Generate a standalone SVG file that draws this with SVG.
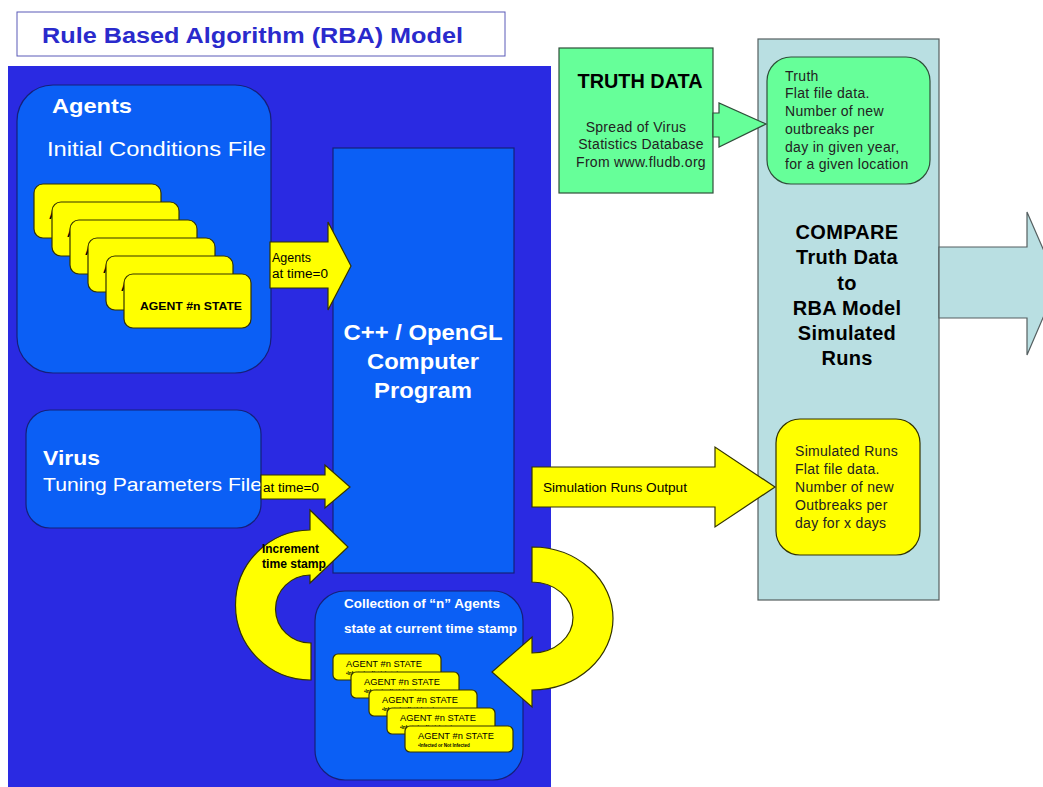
<svg xmlns="http://www.w3.org/2000/svg" width="1043" height="787" viewBox="0 0 1043 787">
  <defs>
    <style>
      .bg { fill: #2a2ae2; }
      .blue { fill: #0b5ff5; stroke: #15207a; stroke-width: 1.2; }
      .yellow { fill: #ffff00; stroke: #333300; stroke-width: 1.2; }
      .green { fill: #66ff99; stroke: #2f4f3a; stroke-width: 1.2; }
      .pale { fill: #b9dfe2; stroke: #555f60; stroke-width: 1.2; }
      text { font-family: "Liberation Sans", Arial, sans-serif; }
      .wb { fill: #ffffff; font-weight: bold; }
      .w { fill: #ffffff; }
      .k { fill: #000000; }
      .kb { fill: #000000; font-weight: bold; }
      .dk { fill: #222222; }
      .note { font-size: 14px; letter-spacing: 0.3px; }
    </style>
  </defs>

  <rect x="0" y="0" width="1043" height="787" fill="#ffffff"/>

  <!-- title -->
  <g id="title">
    <rect x="17" y="12" width="488" height="44" fill="#ffffff" stroke="#5a5ab8" stroke-width="1"/>
    <text x="42" y="43" font-size="22" font-weight="bold" fill="#2a2acc" textLength="421" lengthAdjust="spacingAndGlyphs">Rule Based Algorithm (RBA) Model</text>
  </g>

  <!-- model panel -->
  <rect id="model-panel" class="bg" x="8" y="66" width="543" height="721"/>

  <!-- agents initial conditions -->
  <g id="agents">
    <rect class="blue" x="17" y="85" width="254" height="288" rx="36"/>
    <text class="wb" x="52" y="113" font-size="21" textLength="80" lengthAdjust="spacingAndGlyphs">Agents</text>
    <text class="w" x="47" y="156" font-size="20" textLength="219" lengthAdjust="spacingAndGlyphs">Initial Conditions File</text>
    <g font-size="11" font-weight="bold">
      <rect class="yellow" x="34" y="184" width="127" height="54" rx="9"/>
      <text class="k" x="49" y="219">AGENT #n STATE</text>
      <rect class="yellow" x="52" y="202" width="127" height="54" rx="9"/>
      <text class="k" x="67" y="237">AGENT #n STATE</text>
      <rect class="yellow" x="70" y="220" width="127" height="54" rx="9"/>
      <text class="k" x="85" y="255">AGENT #n STATE</text>
      <rect class="yellow" x="88" y="238" width="127" height="54" rx="9"/>
      <text class="k" x="103" y="273">AGENT #n STATE</text>
      <rect class="yellow" x="106" y="256" width="127" height="54" rx="9"/>
      <text class="k" x="121" y="291">AGENT #n STATE</text>
      <rect class="yellow" x="124" y="274" width="127" height="54" rx="9"/>
      <text class="k" x="140" y="310" textLength="102" lengthAdjust="spacingAndGlyphs">AGENT #n STATE</text>
    </g>
  </g>

  <!-- virus tuning parameters -->
  <g id="virus">
    <rect class="blue" x="26" y="410" width="235" height="118" rx="24"/>
    <text class="wb" x="43" y="465" font-size="21" textLength="57" lengthAdjust="spacingAndGlyphs">Virus</text>
    <text class="w" x="43" y="491" font-size="19" textLength="219" lengthAdjust="spacingAndGlyphs">Tuning Parameters File</text>
  </g>

  <!-- program -->
  <g id="program">
    <rect class="blue" x="333" y="148" width="181" height="425"/>
    <g font-size="22" text-anchor="middle">
      <text class="wb" x="423" y="340" textLength="159" lengthAdjust="spacingAndGlyphs">C++ / OpenGL</text>
      <text class="wb" x="423" y="369" textLength="112" lengthAdjust="spacingAndGlyphs">Computer</text>
      <text class="wb" x="423" y="398" textLength="98" lengthAdjust="spacingAndGlyphs">Program</text>
    </g>
  </g>

  <!-- agent collection at current time stamp -->
  <g id="collection">
    <rect class="blue" x="315" y="591" width="208" height="189" rx="30"/>
    <text class="wb" x="344" y="608" font-size="12.5" textLength="156" lengthAdjust="spacingAndGlyphs">Collection of “n” Agents</text>
    <text class="wb" x="344" y="633" font-size="12.5" textLength="173" lengthAdjust="spacingAndGlyphs">state at current time stamp</text>
    <g>
      <rect class="yellow" x="333" y="654" width="108" height="26" rx="5"/>
      <text class="k" x="346" y="667" font-size="9" textLength="76" lengthAdjust="spacingAndGlyphs">AGENT #n STATE</text>
      <text class="k" x="346" y="675" font-size="4.5" font-weight="bold">•Infected or Not Infected</text>
      <rect class="yellow" x="351" y="672" width="108" height="26" rx="5"/>
      <text class="k" x="364" y="685" font-size="9" textLength="76" lengthAdjust="spacingAndGlyphs">AGENT #n STATE</text>
      <text class="k" x="364" y="693" font-size="4.5" font-weight="bold">•Infected or Not Infected</text>
      <rect class="yellow" x="369" y="690" width="108" height="26" rx="5"/>
      <text class="k" x="382" y="703" font-size="9" textLength="76" lengthAdjust="spacingAndGlyphs">AGENT #n STATE</text>
      <text class="k" x="382" y="711" font-size="4.5" font-weight="bold">•Infected or Not Infected</text>
      <rect class="yellow" x="387" y="708" width="108" height="26" rx="5"/>
      <text class="k" x="400" y="721" font-size="9" textLength="76" lengthAdjust="spacingAndGlyphs">AGENT #n STATE</text>
      <text class="k" x="400" y="729" font-size="4.5" font-weight="bold">•Infected or Not Infected</text>
      <rect class="yellow" x="405" y="726" width="108" height="26" rx="5"/>
      <text class="k" x="418" y="739" font-size="9" textLength="76" lengthAdjust="spacingAndGlyphs">AGENT #n STATE</text>
      <text class="k" x="418" y="747" font-size="4.5" font-weight="bold">•Infected or Not Infected</text>
    </g>
  </g>

  <!-- truth data source -->
  <g id="truth-data">
    <rect class="green" x="559" y="48" width="154" height="145"/>
    <text class="kb" x="640" y="88" font-size="19.5" text-anchor="middle" textLength="125" lengthAdjust="spacingAndGlyphs">TRUTH DATA</text>
    <g class="note" text-anchor="middle">
      <text class="dk" x="636" y="132">Spread of Virus</text>
      <text class="dk" x="641" y="149">Statistics Database</text>
      <text class="dk" x="641" y="167">From www.fludb.org</text>
    </g>
  </g>

  <!-- comparison stage -->
  <g id="compare">
    <rect class="pale" x="758" y="39" width="181" height="561"/>
    <g font-size="20" text-anchor="middle" letter-spacing="0.3">
      <text class="kb" x="847" y="239">COMPARE</text>
      <text class="kb" x="847" y="264">Truth Data</text>
      <text class="kb" x="847" y="290">to</text>
      <text class="kb" x="847" y="315">RBA Model</text>
      <text class="kb" x="847" y="340">Simulated</text>
      <text class="kb" x="847" y="365">Runs</text>
    </g>
  </g>

  <g id="truth-file">
    <rect class="green" x="767" y="57" width="163" height="127" rx="24"/>
    <g class="note">
      <text class="dk" x="785" y="81">Truth</text>
      <text class="dk" x="785" y="98">Flat file data.</text>
      <text class="dk" x="785" y="116">Number of new</text>
      <text class="dk" x="785" y="134">outbreaks per</text>
      <text class="dk" x="785" y="152">day in given year,</text>
      <text class="dk" x="785" y="169">for a given location</text>
    </g>
  </g>

  <g id="simulated-file">
    <rect class="yellow" x="776" y="419" width="144" height="136" rx="24"/>
    <g class="note">
      <text class="dk" x="795" y="456">Simulated Runs</text>
      <text class="dk" x="795" y="474">Flat file data.</text>
      <text class="dk" x="795" y="492">Number of new</text>
      <text class="dk" x="795" y="510">Outbreaks per</text>
      <text class="dk" x="795" y="528">day for x days</text>
    </g>
  </g>

  <!-- connectors: block arrows -->
  <g id="connectors">
    <!-- agents at time=0 -->
    <path class="yellow" d="M270,242 H328 V222 L351,266 L328,310 V288 H270 Z"/>
    <text class="k" x="272" y="262" font-size="12.5">Agents</text>
    <text class="k" x="272" y="278" font-size="12.5" textLength="56" lengthAdjust="spacingAndGlyphs">at time=0</text>

    <!-- virus parameters at time=0 -->
    <path class="yellow" d="M261,475 H325 V465 L350,487 L325,508 V499 H261 Z"/>
    <text class="k" x="263" y="492" font-size="12.5" textLength="56" lengthAdjust="spacingAndGlyphs">at time=0</text>

    <!-- increment time stamp loop -->
    <path class="yellow" d="M311,680 A75,75 0 0 1 310,530 V510 L348,547 L310,583 V575 A35,34 0 0 0 311,643 Z"/>
    <text class="kb" x="262" y="553" font-size="12.5" textLength="57" lengthAdjust="spacingAndGlyphs">Increment</text>
    <text class="kb" x="262" y="568" font-size="12.5" textLength="64" lengthAdjust="spacingAndGlyphs">time stamp</text>

    <!-- program output back to agent collection -->
    <path class="yellow" d="M532,547 A81,71.5 0 0 1 532,690 V707 L492,672 L532,637 V653 A41,35.5 0 0 0 532,582 Z"/>

    <!-- simulation runs output -->
    <path class="yellow" d="M532,467 H715 V447 L775,487 L715,527 V507 H532 Z"/>
    <text class="k" x="543" y="492" font-size="13.5" textLength="144" lengthAdjust="spacingAndGlyphs">Simulation Runs Output</text>

    <!-- truth data into comparison -->
    <path class="green" d="M713,113 H719 V103 L766,124 L719,147 V137 H713 Z"/>

    <!-- comparison result -->
    <path class="pale" d="M939,247 H1027 V212 L1058,283 L1027,355 V318 H939 Z"/>
  </g>
</svg>
